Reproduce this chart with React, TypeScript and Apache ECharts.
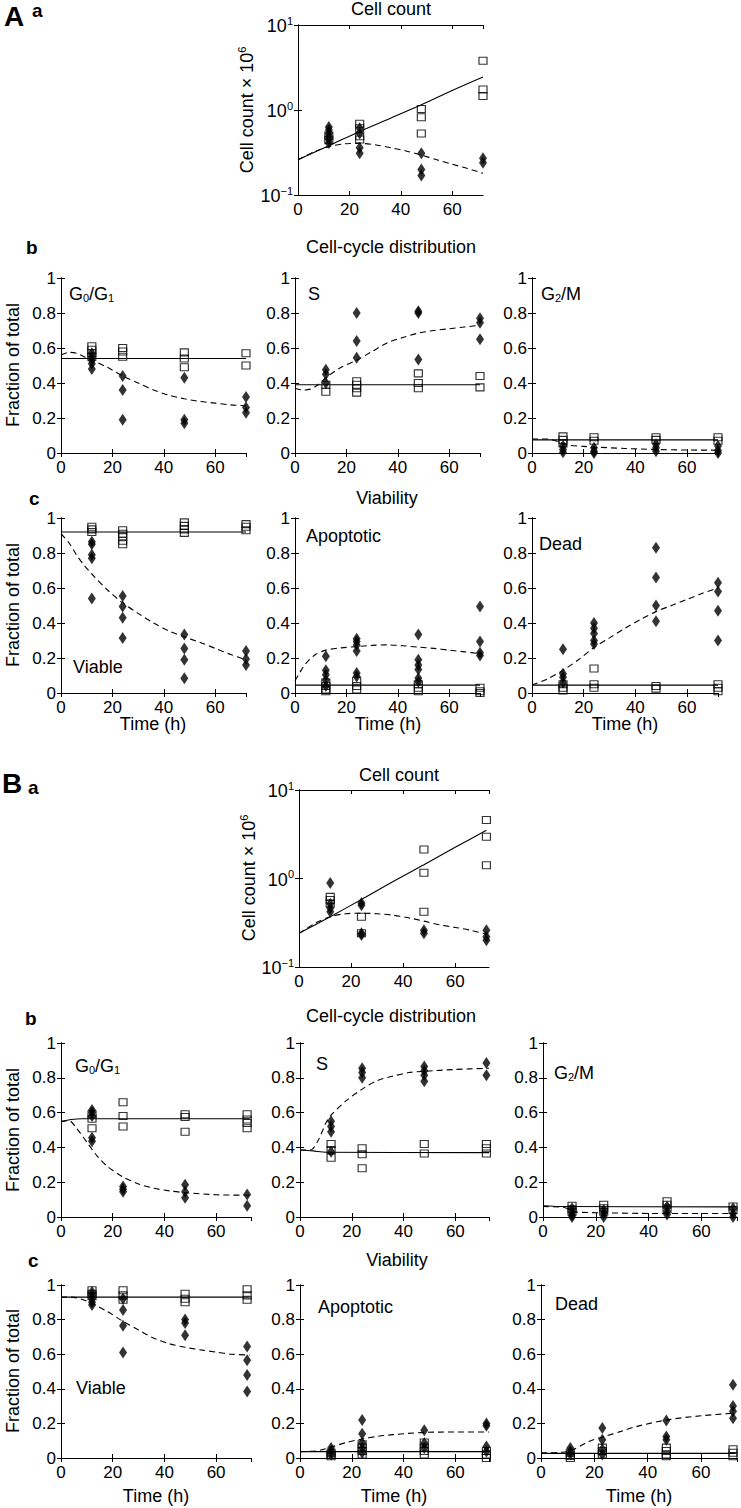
import React, { useEffect, useRef } from "react";
import * as echarts from "echarts";

type Pt = [number, number];

// ---------- DATA (time h, value) ----------
// A a: cell count (x10^6)
const A_count_sq: Pt[] = [[12,0.44],[12,0.5],[24,0.69],[24,0.61],[24,0.49],[24,0.45],[48,1.03],[48,0.82],[48,0.53],[72,3.8],[72,1.74],[72,1.46]];
const A_count_di: Pt[] = [[12,0.63],[12,0.58],[12,0.53],[12,0.49],[12,0.45],[12,0.41],[24,0.61],[24,0.53],[24,0.36],[24,0.31],[48,0.31],[48,0.2],[48,0.17],[72,0.27],[72,0.24]];
const A_count_solid: Pt[] = [[0,0.26],[12,0.38],[24,0.56],[36,0.8],[48,1.15],[60,1.7],[72,2.45]];
const A_count_dash: Pt[] = [[0,0.26],[6,0.32],[12,0.37],[18,0.4],[24,0.405],[30,0.39],[36,0.36],[42,0.33],[48,0.295],[54,0.26],[60,0.23],[66,0.205],[72,0.18]];

// A b: G0/G1
const A_g01_sq: Pt[] = [[12,0.61],[12,0.59],[12,0.57],[12,0.55],[24,0.6],[24,0.58],[24,0.55],[48,0.575],[48,0.54],[48,0.49],[72,0.57],[72,0.5]];
const A_g01_di: Pt[] = [[12,0.57],[12,0.55],[12,0.53],[12,0.51],[12,0.48],[24,0.44],[24,0.36],[24,0.19],[48,0.43],[48,0.19],[48,0.17],[72,0.32],[72,0.26],[72,0.23]];
const A_g01_solid: Pt[] = [[0,0.54],[72,0.54]];
const A_g01_dash: Pt[] = [[0,0.56],[3,0.575],[6,0.57],[9,0.55],[12,0.53],[18,0.49],[24,0.44],[30,0.4],[36,0.36],[42,0.33],[48,0.31],[54,0.295],[60,0.285],[66,0.275],[72,0.27]];

// A b: S
const A_s_sq: Pt[] = [[12,0.39],[12,0.35],[24,0.41],[24,0.39],[24,0.37],[24,0.345],[48,0.455],[48,0.4],[48,0.37],[72,0.44],[72,0.375]];
const A_s_di: Pt[] = [[12,0.476],[12,0.45],[12,0.4],[24,0.8],[24,0.64],[24,0.545],[48,0.81],[48,0.8],[48,0.535],[72,0.77],[72,0.745],[72,0.65]];
const A_s_solid: Pt[] = [[0,0.39],[72,0.39]];
const A_s_dash: Pt[] = [[0,0.37],[3,0.36],[6,0.365],[9,0.39],[12,0.43],[18,0.49],[24,0.53],[30,0.58],[36,0.63],[42,0.66],[48,0.685],[54,0.7],[60,0.71],[66,0.72],[72,0.73]];

// A b: G2/M
const A_g2m_sq: Pt[] = [[12,0.095],[12,0.075],[12,0.055],[24,0.09],[24,0.07],[48,0.09],[48,0.075],[72,0.09],[72,0.07]];
const A_g2m_di: Pt[] = [[12,0.04],[12,0.02],[12,0.005],[24,0.03],[24,0.01],[24,0],[48,0.05],[48,0.03],[48,0.01],[72,0.04],[72,0.015],[72,0]];
const A_g2m_solid: Pt[] = [[0,0.075],[72,0.075]];
const A_g2m_dash: Pt[] = [[0,0.08],[6,0.08],[10,0.065],[14,0.045],[20,0.038],[24,0.034],[36,0.026],[48,0.02],[60,0.017],[72,0.016]];

// A c: Viable
const A_via_sq: Pt[] = [[12,0.95],[12,0.935],[12,0.92],[24,0.93],[24,0.91],[24,0.895],[24,0.87],[24,0.85],[48,0.975],[48,0.955],[48,0.935],[48,0.915],[72,0.965],[72,0.95],[72,0.93]];
const A_via_di: Pt[] = [[12,0.865],[12,0.85],[12,0.79],[12,0.77],[12,0.54],[24,0.555],[24,0.495],[24,0.43],[24,0.315],[48,0.335],[48,0.255],[48,0.19],[48,0.085],[72,0.24],[72,0.195],[72,0.16]];
const A_via_solid: Pt[] = [[0,0.92],[72,0.92]];
const A_via_dash: Pt[] = [[0,0.91],[3,0.86],[6,0.79],[9,0.73],[12,0.68],[18,0.59],[24,0.515],[30,0.455],[36,0.4],[42,0.355],[48,0.32],[54,0.29],[60,0.255],[66,0.22],[72,0.19]];

// A c: Apoptotic
const A_apo_sq: Pt[] = [[12,0.06],[12,0.04],[12,0.02],[12,0.01],[24,0.07],[24,0.04],[24,0.02],[48,0.05],[48,0.03],[48,0.01],[72,0.03],[72,0.01],[72,0]];
const A_apo_di: Pt[] = [[12,0.21],[12,0.13],[12,0.105],[12,0.075],[12,0.04],[24,0.31],[24,0.295],[24,0.275],[24,0.24],[24,0.115],[24,0.095],[48,0.335],[48,0.19],[48,0.16],[48,0.135],[48,0.085],[48,0.065],[72,0.495],[72,0.295],[72,0.23],[72,0.215]];
const A_apo_solid: Pt[] = [[0,0.045],[72,0.045]];
const A_apo_dash: Pt[] = [[0,0.07],[2,0.12],[4,0.165],[8,0.22],[12,0.245],[18,0.258],[24,0.265],[30,0.272],[36,0.275],[42,0.27],[48,0.262],[54,0.255],[60,0.245],[66,0.235],[72,0.225]];

// A c: Dead
const A_dead_sq: Pt[] = [[12,0.05],[12,0.03],[12,0.015],[24,0.14],[24,0.05],[24,0.03],[48,0.04],[48,0.025],[72,0.05],[72,0.03],[72,0.01]];
const A_dead_di: Pt[] = [[12,0.25],[12,0.11],[12,0.09],[12,0.06],[24,0.4],[24,0.37],[24,0.34],[24,0.3],[24,0.28],[48,0.83],[48,0.66],[48,0.5],[48,0.41],[72,0.63],[72,0.58],[72,0.47],[72,0.3]];
const A_dead_solid: Pt[] = [[0,0.045],[72,0.045]];
const A_dead_dash: Pt[] = [[0,0.045],[6,0.08],[12,0.13],[18,0.19],[24,0.26],[30,0.315],[36,0.37],[42,0.42],[48,0.465],[54,0.5],[60,0.535],[66,0.57],[72,0.6]];

// B a: cell count
const B_count_sq: Pt[] = [[12,0.62],[12,0.57],[12,0.52],[24,0.37],[24,0.24],[48,2.13],[48,1.16],[48,0.42],[72,4.57],[72,2.96],[72,1.41]];
const B_count_di: Pt[] = [[12,0.89],[12,0.52],[12,0.46],[12,0.42],[24,0.53],[24,0.5],[24,0.24],[24,0.23],[48,0.26],[48,0.24],[72,0.26],[72,0.22],[72,0.2]];
const B_count_solid: Pt[] = [[0,0.24],[12,0.37],[24,0.58],[36,0.92],[48,1.43],[60,2.25],[72,3.5]];
const B_count_dash: Pt[] = [[0,0.24],[6,0.31],[12,0.37],[18,0.4],[24,0.405],[30,0.4],[36,0.385],[42,0.36],[48,0.33],[54,0.3],[60,0.28],[66,0.26],[72,0.235]];

// B b: G0/G1
const B_g01_sq: Pt[] = [[12,0.59],[12,0.565],[12,0.51],[24,0.66],[24,0.58],[24,0.52],[48,0.59],[48,0.575],[48,0.49],[72,0.59],[72,0.56],[72,0.54],[72,0.51]];
const B_g01_di: Pt[] = [[12,0.615],[12,0.6],[12,0.58],[12,0.455],[12,0.435],[24,0.175],[24,0.16],[24,0.145],[48,0.185],[48,0.145],[48,0.11],[72,0.13],[72,0.065]];
const B_g01_solid: Pt[] = [[0,0.548],[4,0.56],[8,0.565],[73,0.565]];
const B_g01_dash: Pt[] = [[0,0.548],[3,0.555],[6,0.51],[10,0.43],[14,0.35],[18,0.29],[24,0.23],[30,0.19],[36,0.165],[42,0.15],[48,0.14],[60,0.128],[73,0.125]];

// B b: S
const B_s_sq: Pt[] = [[12,0.42],[12,0.385],[12,0.34],[24,0.395],[24,0.36],[24,0.28],[48,0.42],[48,0.365],[72,0.42],[72,0.395],[72,0.365]];
const B_s_di: Pt[] = [[12,0.55],[12,0.52],[12,0.49],[12,0.375],[24,0.855],[24,0.83],[24,0.8],[48,0.865],[48,0.84],[48,0.815],[48,0.78],[72,0.885],[72,0.815]];
const B_s_solid: Pt[] = [[0,0.385],[5,0.38],[10,0.372],[73,0.37]];
const B_s_dash: Pt[] = [[0,0.385],[4,0.385],[7,0.44],[10,0.54],[12,0.585],[18,0.67],[24,0.735],[30,0.785],[36,0.81],[42,0.83],[48,0.837],[60,0.848],[73,0.855]];

// B b: G2/M
const B_g2m_sq: Pt[] = [[11,0.065],[11,0.045],[11,0.03],[23,0.07],[23,0.05],[23,0.03],[47,0.09],[47,0.07],[47,0.045],[72,0.06],[72,0.04]];
const B_g2m_di: Pt[] = [[11,0.05],[11,0.03],[11,0.012],[11,0],[23,0.04],[23,0.02],[23,0],[47,0.06],[47,0.035],[47,0.015],[72,0.05],[72,0.02],[72,0]];
const B_g2m_solid: Pt[] = [[0,0.065],[8,0.06],[73,0.058]];
const B_g2m_dash: Pt[] = [[0,0.06],[8,0.055],[12,0.03],[24,0.024],[36,0.021],[48,0.02],[73,0.02]];

// B c: Viable
const B_via_sq: Pt[] = [[12,0.97],[12,0.95],[12,0.935],[24,0.97],[24,0.94],[24,0.915],[48,0.95],[48,0.92],[48,0.9],[72,0.975],[72,0.94],[72,0.915]];
const B_via_di: Pt[] = [[12,0.96],[12,0.94],[12,0.92],[12,0.9],[12,0.885],[24,0.92],[24,0.855],[24,0.765],[24,0.61],[48,0.8],[48,0.78],[48,0.71],[72,0.645],[72,0.565],[72,0.48],[72,0.385]];
const B_via_solid: Pt[] = [[0,0.93],[73,0.93]];
const B_via_dash: Pt[] = [[0,0.93],[4,0.93],[8,0.918],[12,0.894],[18,0.846],[24,0.79],[30,0.74],[36,0.692],[42,0.66],[48,0.64],[54,0.625],[60,0.612],[66,0.6],[73,0.595]];

// B c: Apoptotic
const B_apo_sq: Pt[] = [[12,0.03],[12,0.02],[12,0.01],[24,0.08],[24,0.06],[24,0.04],[24,0.02],[48,0.09],[48,0.06],[48,0.04],[48,0.02],[72,0.04],[72,0.02],[72,0]];
const B_apo_di: Pt[] = [[12,0.058],[12,0.038],[12,0.02],[24,0.22],[24,0.14],[24,0.087],[24,0.058],[24,0.03],[48,0.16],[48,0.087],[48,0.058],[72,0.2],[72,0.187],[72,0.067],[72,0.038]];
const B_apo_solid: Pt[] = [[0,0.037],[73,0.037]];
const B_apo_dash: Pt[] = [[0,0.037],[6,0.04],[9,0.05],[12,0.063],[18,0.09],[24,0.11],[30,0.125],[36,0.135],[48,0.148],[60,0.15],[73,0.15]];

// B c: Dead
const B_dead_sq: Pt[] = [[11,0.03],[11,0.012],[11,0],[23,0.06],[23,0.04],[23,0.02],[47,0.06],[47,0.04],[47,0.02],[47,0.01],[72,0.05],[72,0.03],[72,0.01]];
const B_dead_di: Pt[] = [[11,0.058],[11,0.038],[11,0.02],[23,0.173],[23,0.106],[23,0.05],[23,0.02],[47,0.217],[47,0.125],[47,0.106],[72,0.423],[72,0.3],[72,0.27],[72,0.23]];
const B_dead_solid: Pt[] = [[0,0.027],[73,0.027]];
const B_dead_dash: Pt[] = [[0,0.03],[8,0.033],[12,0.048],[18,0.096],[24,0.125],[30,0.154],[36,0.183],[48,0.222],[60,0.244],[73,0.26]];

const X_TICK_STEP = 20;
const FRACTION_STEP = 0.2;

// ---------- LAYOUT ----------
const FONT = "'Liberation Sans', Arial, Helvetica, sans-serif";

interface Panel {
  left: number; top: number; width: number; height: number; xmax: number; log?: boolean;
  sq: Pt[]; di: Pt[]; solid: Pt[]; dash: Pt[];
}

const panels: Panel[] = [
  { left: 298, top: 25, width: 185, height: 170, xmax: 72, log: true, sq: A_count_sq, di: A_count_di, solid: A_count_solid, dash: A_count_dash },
  { left: 61, top: 278, width: 185, height: 175, xmax: 72, sq: A_g01_sq, di: A_g01_di, solid: A_g01_solid, dash: A_g01_dash },
  { left: 295, top: 278, width: 185, height: 175, xmax: 72, sq: A_s_sq, di: A_s_di, solid: A_s_solid, dash: A_s_dash },
  { left: 532, top: 278, width: 186, height: 175, xmax: 72, sq: A_g2m_sq, di: A_g2m_di, solid: A_g2m_solid, dash: A_g2m_dash },
  { left: 61, top: 518, width: 185, height: 175, xmax: 72, sq: A_via_sq, di: A_via_di, solid: A_via_solid, dash: A_via_dash },
  { left: 295, top: 518, width: 185, height: 175, xmax: 72, sq: A_apo_sq, di: A_apo_di, solid: A_apo_solid, dash: A_apo_dash },
  { left: 532, top: 518, width: 186, height: 175, xmax: 72, sq: A_dead_sq, di: A_dead_di, solid: A_dead_solid, dash: A_dead_dash },
  { left: 299, top: 790, width: 190, height: 177, xmax: 73, log: true, sq: B_count_sq, di: B_count_di, solid: B_count_solid, dash: B_count_dash },
  { left: 61, top: 1043, width: 190, height: 174, xmax: 73.5, sq: B_g01_sq, di: B_g01_di, solid: B_g01_solid, dash: B_g01_dash },
  { left: 300, top: 1043, width: 189, height: 174, xmax: 73, sq: B_s_sq, di: B_s_di, solid: B_s_solid, dash: B_s_dash },
  { left: 543, top: 1043, width: 194, height: 174, xmax: 73.5, sq: B_g2m_sq, di: B_g2m_di, solid: B_g2m_solid, dash: B_g2m_dash },
  { left: 61, top: 1285, width: 190, height: 173, xmax: 73.5, sq: B_via_sq, di: B_via_di, solid: B_via_solid, dash: B_via_dash },
  { left: 300, top: 1285, width: 189, height: 173, xmax: 73, sq: B_apo_sq, di: B_apo_di, solid: B_apo_solid, dash: B_apo_dash },
  { left: 541, top: 1285, width: 196, height: 173, xmax: 73.5, sq: B_dead_sq, di: B_dead_di, solid: B_dead_solid, dash: B_dead_dash },
];

function txt(x: number, y: number, text: string, opts: any = {}) {
  const size = opts.size ?? 18;
  const weight = opts.bold ? "bold" : "normal";
  return {
    type: "text",
    x, y,
    rotation: opts.rotation ?? 0,
    silent: true,
    style: {
      text,
      fill: "#000",
      font: `${opts.bold ? "bold " : ""}${size}px ${FONT}`,
      fontSize: size,
      fontWeight: weight,
      fontFamily: FONT,
      textAlign: opts.align ?? "left",
      align: opts.align ?? "left",
      textVerticalAlign: opts.valign ?? "middle",
      verticalAlign: opts.valign ?? "middle",
      rich: opts.rich,
    },
  };
}

const subRich = {
  b: { fontSize: 18, fontFamily: FONT, lineHeight: 18, verticalAlign: "top", fill: "#000", color: "#000" },
  s: { fontSize: 11, fontFamily: FONT, lineHeight: 11, verticalAlign: "bottom", padding: [11, 0, 0, 0], fill: "#000", color: "#000" },
};
const supRich = {
  b: { fontSize: 18, fontFamily: FONT, lineHeight: 20, verticalAlign: "bottom", fill: "#000", color: "#000" },
  p: { fontSize: 11, fontFamily: FONT, lineHeight: 11, verticalAlign: "top", fill: "#000", color: "#000" },
};

function buildOption() {
  const grid: any[] = [];
  const xAxis: any[] = [];
  const yAxis: any[] = [];
  const series: any[] = [];
  const axisLine = { show: true, lineStyle: { color: "#000", width: 1 } };
  const axisTick = { show: true, inside: true, length: 4, lineStyle: { color: "#000", width: 1 } };

  panels.forEach((p, i) => {
    grid.push({ left: p.left, top: p.top, width: p.width, height: p.height });
    const xBase = { type: "value", gridIndex: i, min: 0, max: p.xmax, interval: X_TICK_STEP, splitLine: { show: false }, axisLine, axisTick };
    xAxis.push({ ...xBase, position: "bottom",
      axisLabel: { show: true, color: "#000", fontSize: 17, fontFamily: FONT, margin: 6, showMaxLabel: false } });
    xAxis.push({ ...xBase, position: "top", axisLabel: { show: false } });
    let yBase: any;
    let yLabel: any;
    if (p.log) {
      yBase = { type: "log", logBase: 10, gridIndex: i, min: 0.1, max: 10, splitLine: { show: false }, axisLine, axisTick, minorTick: { show: false } };
      yLabel = {
        show: true, margin: 5, color: "#000", fontFamily: FONT, fontSize: 17,
        formatter: (v: number) => {
          const e = Math.round(Math.log10(v));
          return `{b|10}{p|${e < 0 ? "\u2212" + Math.abs(e) : e}}`;
        },
        rich: supRich,
      };
    } else {
      yBase = { type: "value", gridIndex: i, min: 0, max: 1, interval: FRACTION_STEP, splitLine: { show: false }, axisLine, axisTick };
      yLabel = { show: true, margin: 5, color: "#000", fontFamily: FONT, fontSize: 17 };
    }
    yAxis.push({ ...yBase, position: "left", axisLabel: yLabel });
    yAxis.push({ ...yBase, position: "right", axisLabel: { show: false } });

    const xi = 2 * i;
    const yi = 2 * i;
    series.push({
      type: "scatter", xAxisIndex: xi, yAxisIndex: yi, data: p.di, symbol: "diamond", symbolSize: [8, 12],
      itemStyle: { color: "#000" }, silent: true, z: 3,
    });
    series.push({
      type: "scatter", xAxisIndex: xi, yAxisIndex: yi, data: p.sq, symbol: "rect", symbolSize: [8, 7],
      itemStyle: { color: "rgba(255,255,255,0)", borderColor: "#000", borderWidth: 1.1 }, silent: true, z: 4,
    });
    series.push({
      type: "line", xAxisIndex: xi, yAxisIndex: yi, data: p.solid, showSymbol: false, symbol: "none",
      lineStyle: { color: "#000", width: 1.1, type: "solid" }, silent: true, z: 5, smooth: 0.3,
    });
    series.push({
      type: "line", xAxisIndex: xi, yAxisIndex: yi, data: p.dash, showSymbol: false, symbol: "none",
      lineStyle: { color: "#000", width: 1.1, type: [6, 4] }, silent: true, z: 5, smooth: 0.3,
    });
  });

  const graphic: any[] = [
    // panel letters
    txt(4, 16, "A", { size: 28, bold: true }),
    txt(32, 10, "a", { size: 19, bold: true }),
    txt(26, 247, "b", { size: 19, bold: true }),
    txt(29, 498, "c", { size: 19, bold: true }),
    txt(2, 783, "B", { size: 28, bold: true }),
    txt(28, 787, "a", { size: 19, bold: true }),
    txt(25, 1018, "b", { size: 19, bold: true }),
    txt(28, 1260, "c", { size: 19, bold: true }),
    // titles
    txt(391, 9, "Cell count", { align: "center" }),
    txt(391, 247, "Cell-cycle distribution", { align: "center" }),
    txt(387, 498, "Viability", { align: "center" }),
    txt(399, 775, "Cell count", { align: "center" }),
    txt(391, 1016, "Cell-cycle distribution", { align: "center" }),
    txt(397, 1260, "Viability", { align: "center" }),
    // y names
    txt(246, 110, "{b|Cell count \u00d7 10}{p|6}", { align: "center", rotation: Math.PI / 2, rich: supRich }),
    txt(248, 878, "{b|Cell count \u00d7 10}{p|6}", { align: "center", rotation: Math.PI / 2, rich: supRich }),
    txt(13, 365, "Fraction of total", { align: "center", rotation: Math.PI / 2 }),
    txt(13, 605, "Fraction of total", { align: "center", rotation: Math.PI / 2 }),
    txt(13, 1130, "Fraction of total", { align: "center", rotation: Math.PI / 2 }),
    txt(13, 1371, "Fraction of total", { align: "center", rotation: Math.PI / 2 }),
    // x names
    txt(153, 724, "Time (h)", { align: "center" }),
    txt(388, 724, "Time (h)", { align: "center" }),
    txt(625, 724, "Time (h)", { align: "center" }),
    txt(156, 1496, "Time (h)", { align: "center" }),
    txt(394, 1496, "Time (h)", { align: "center" }),
    txt(639, 1496, "Time (h)", { align: "center" }),
    // in-plot labels
    txt(69, 285, "{b|G}{s|0}{b|/G}{s|1}", { valign: "top", rich: subRich }),
    txt(308, 285, "S", { valign: "top" }),
    txt(541, 285, "{b|G}{s|2}{b|/M}", { valign: "top", rich: subRich }),
    txt(73, 667, "Viable"),
    txt(306, 536, "Apoptotic"),
    txt(539, 544, "Dead"),
    txt(75, 1057, "{b|G}{s|0}{b|/G}{s|1}", { valign: "top", rich: subRich }),
    txt(316, 1055, "S", { valign: "top" }),
    txt(554, 1064, "{b|G}{s|2}{b|/M}", { valign: "top", rich: subRich }),
    txt(76, 1388, "Viable"),
    txt(318, 1307, "Apoptotic"),
    txt(555, 1304, "Dead"),
  ];

  return {
    animation: false,
    backgroundColor: "#fff",
    textStyle: { fontFamily: FONT },
    grid, xAxis, yAxis, series, graphic,
  };
}

export default function App() {
  const ref = useRef<HTMLDivElement>(null);
  useEffect(() => {
    if (!ref.current) return;
    const chart = echarts.init(ref.current, null, { renderer: "svg" });
    chart.setOption(buildOption() as any);
    return () => chart.dispose();
  }, []);
  return (
    <div
      ref={ref}
      style={{ position: "absolute", left: 0, top: 0, width: 741, height: 1508, background: "#fff" }}
    />
  );
}
